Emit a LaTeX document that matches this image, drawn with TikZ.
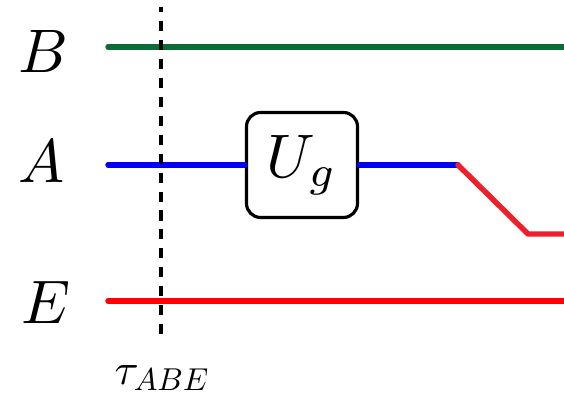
\documentclass[tikz,border=0pt]{standalone}
\usepackage{amsmath, amssymb}
\usepackage{graphicx}
\usetikzlibrary{calc}
\usetikzlibrary{positioning}
\definecolor{wgreen}{rgb}{0.05,0.42,0.22}
\definecolor{wblue}{rgb}{0,0,0.95}
\definecolor{wred}{rgb}{1,0,0}
\definecolor{wred2}{rgb}{0.93,0.12,0.17}
\newcommand{\wirelab}[2]{\scalebox{#1}{$#2$}}

\begin{document}
\begin{tikzpicture}[
		g/.style = {draw=wgreen,	line width=3.1pt, line cap=round},
		b/.style = {draw=wblue,		line width=3.1pt, line cap=round},
		r/.style = {draw=wred,		line width=3.1pt, line cap=round},
		rr/.style = {draw=wred2,	line width=3.1pt, line cap=round, line join=round},
		gate/.style = {rectangle, draw, line width=1.8pt, rounded corners=8pt, fill=white,
			minimum width=2.22cm, minimum height=2.1cm, inner sep=0pt},
		lab/.style = {inner sep=0pt},
		cut/.style = {line width=1.9pt, dash pattern=on 5.7pt off 5.1pt, dash phase=3pt},
		]
		\useasboundingbox (0, 0) rectangle (11.28, 7.92);
		\clip (0, 0) rectangle (11.28, 7.92);
		
		% === === Nodes === ===
		\node[lab]	(lb)	at	(0.87, 6.90)	{\wirelab{3.5}{B}};
		\node[lab]	(la)	at	(0.84, 4.69)	{\wirelab{3.5}{A}};
		\node[lab]	(le)	at	(0.91, 1.87)	{\wirelab{3.5}{E}};
		\node[gate]	(ug)	at	(6.04, 4.62)	{\wirelab{3.5}{U_g}};
		\node[lab]	(tau)	at	(3.25, 0.36)	{\wirelab{2.5}{\tau_{\scalebox{0.72}{$ABE$}}}};
		
		\coordinate (b0) at (2.16, 6.98);
		\coordinate (b1) at (11.5, 6.98);
		\coordinate (a0) at (2.16, 4.62);
		\coordinate (a1) at (9.16, 4.62);
		\coordinate (a2) at (10.56, 3.24);
		\coordinate (a3) at (11.5, 3.24);
		\coordinate (e0) at (2.16, 1.90);
		\coordinate (e1) at (11.5, 1.90);
		\coordinate (t0) at (3.22, 7.78);
		\coordinate (t1) at (3.22, 1.06);
		
		% === === Lines === ===
		\draw[g]	(b0)	--	(b1);
		\draw[b]	(a0)	--	(ug.west);
		\draw[b]	(ug.east)	--	(a1);
		\draw[rr]	(a1)	--	(a2)	--	(a3);
		\draw[r]	(e0)	--	(e1);
		\draw[cut]	(t0)	--	(t1);
		
	\end{tikzpicture}
\end{document}
